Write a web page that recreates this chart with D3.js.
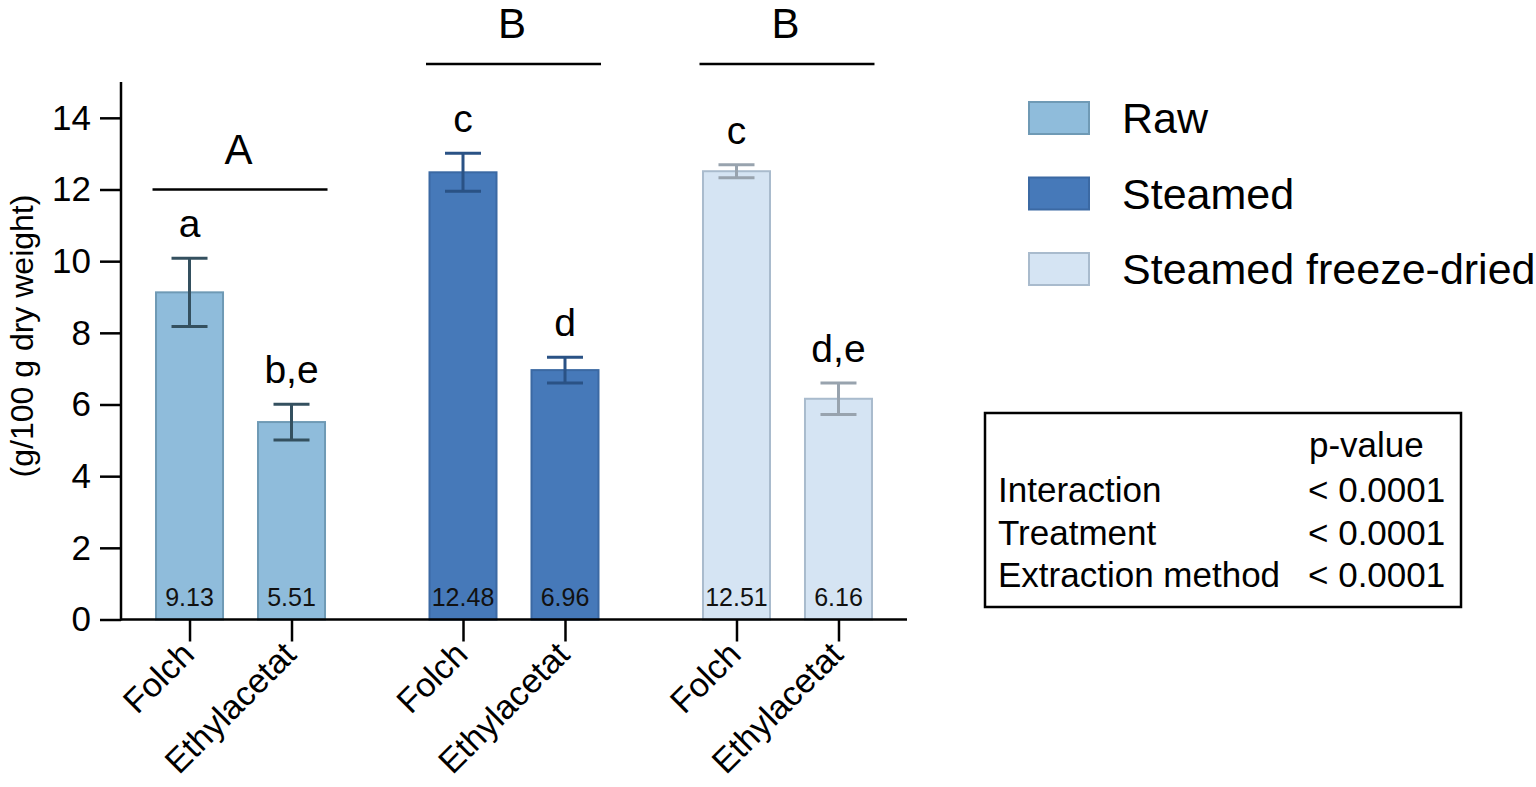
<!DOCTYPE html>
<html>
<head>
<meta charset="utf-8">
<script src="https://cdn.jsdelivr.net/npm/d3@7"></script>
<style>
  html, body { margin: 0; padding: 0; background: #fff; }
  svg { display: block; font-family: "Liberation Sans", Arial, Helvetica, sans-serif; }
</style>
</head>
<body>
<svg id="chart" width="1536" height="787"></svg>
<script>
// ---- data ----
const treatments = ["Raw", "Steamed", "Steamed freeze-dried"];
const methods = ["Folch", "Ethylacetat"];
const rawMeans = [9.13, 5.51];
const steamedMeans = [12.48, 6.96];
const sfdMeans = [12.51, 6.16];
const rawSD = [0.95, 0.50];
const steamedSD = [0.53, 0.36];
const sfdSD = [0.18, 0.44];
const rawLetters = ["a", "b,e"];
const steamedLetters = ["c", "d"];
const sfdLetters = ["c", "d,e"];
const groupLetters = ["A", "B", "B"];
const groupLineLevel = [12, 15.5, 15.5];
const yTicks = [0, 2, 4, 6, 8, 10, 12, 14];
const yLabel = "(g/100 g dry weight)";
const pHeader = "p-value";
const pRows = ["Interaction", "Treatment", "Extraction method"];
const pValues = ["< 0.0001", "< 0.0001", "< 0.0001"];

// ---- styles ----
const fills = ["#8fbcdb", "#4679b9", "#d5e4f3"];
const strokes = ["#6f9ab5", "#3b69a3", "#a9bbcd"];
const errColors = ["#34505f", "#2a5285", "#98a3ae"];

const meansBy = [rawMeans, steamedMeans, sfdMeans];
const sdBy = [rawSD, steamedSD, sfdSD];
const lettersBy = [rawLetters, steamedLetters, sfdLetters];

const bars = [];
treatments.forEach((t, gi) => methods.forEach((m, mi) => {
  bars.push({ t, m, gi, mi, mean: meansBy[gi][mi], sd: sdBy[gi][mi], letter: lettersBy[gi][mi] });
}));

const svg = d3.select("#chart");
const pLeft = 121, pRight = 907, pTop = 82, pBottom = 619.5;

const y = d3.scaleLinear().domain([0, 15]).range([pBottom, pTop]);
const xGroup = d3.scalePoint().domain(treatments).range([pLeft, pRight]).padding(0.437);
const xInner = d3.scaleBand().domain(methods).range([-102, 102]).paddingInner(0.343).paddingOuter(0.1716);
const cx = d => xGroup(d.t) + xInner(d.m) + xInner.bandwidth() / 2;

// bars
svg.append("g").selectAll("rect").data(bars).join("rect")
  .attr("x", d => xGroup(d.t) + xInner(d.m))
  .attr("y", d => y(d.mean))
  .attr("width", xInner.bandwidth())
  .attr("height", d => y(0) - y(d.mean))
  .attr("fill", d => fills[d.gi])
  .attr("stroke", d => strokes[d.gi])
  .attr("stroke-width", 2);

// error bars
const eg = svg.append("g").attr("fill", "none").attr("stroke-width", 3);
const capW = 18;
bars.forEach(d => {
  const c = cx(d), col = errColors[d.gi];
  eg.append("line").attr("x1", c).attr("x2", c).attr("y1", y(d.mean + d.sd)).attr("y2", y(d.mean - d.sd)).attr("stroke", col);
  eg.append("line").attr("x1", c - capW).attr("x2", c + capW).attr("y1", y(d.mean + d.sd)).attr("y2", y(d.mean + d.sd)).attr("stroke", col);
  eg.append("line").attr("x1", c - capW).attr("x2", c + capW).attr("y1", y(d.mean - d.sd)).attr("y2", y(d.mean - d.sd)).attr("stroke", col);
});

// value labels inside bars
svg.append("g").selectAll("text").data(bars).join("text")
  .attr("x", cx).attr("y", y(0) - 14)
  .attr("text-anchor", "middle")
  .attr("font-size", 25).attr("fill", "#111")
  .text(d => d.mean.toFixed(2));

// significance letters
svg.append("g").selectAll("text").data(bars).join("text")
  .attr("x", cx).attr("y", d => y(d.mean + d.sd) - 21)
  .attr("text-anchor", "middle")
  .attr("font-size", 39).attr("fill", "#000")
  .text(d => d.letter);

// group lines & letters
treatments.forEach((t, gi) => {
  const c = xGroup(t);
  const ly = y(groupLineLevel[gi]);
  svg.append("line").attr("x1", c - 88).attr("x2", c + 87).attr("y1", ly).attr("y2", ly)
    .attr("stroke", "#000").attr("stroke-width", 2.5);
  svg.append("text").attr("x", c - 2).attr("y", ly - 26).attr("text-anchor", "middle")
    .attr("font-size", 42).attr("fill", "#000").text(groupLetters[gi]);
});

// y axis
const yAxis = svg.append("g").attr("transform", `translate(${pLeft},0)`)
  .call(d3.axisLeft(y).tickValues(yTicks).tickSize(21).tickPadding(9).tickFormat(d3.format("d")));
yAxis.select(".domain").remove();
yAxis.selectAll(".tick line").attr("stroke", "#000").attr("stroke-width", 2.5);
yAxis.selectAll(".tick text").attr("font-size", 35).attr("font-family", "Liberation Sans, Arial, sans-serif").attr("fill", "#000");
svg.append("line").attr("x1", pLeft).attr("x2", pLeft).attr("y1", y(15)).attr("y2", y(0) + 1)
  .attr("stroke", "#000").attr("stroke-width", 2.5);

// x axis
const keys = bars.map(d => d.t + "|" + d.m);
const xTickScale = d3.scaleOrdinal().domain(keys).range(bars.map(cx));
const xAxis = svg.append("g").attr("transform", `translate(0,${pBottom})`)
  .call(d3.axisBottom(xTickScale).tickSize(22).tickFormat(k => k.split("|")[1]));
xAxis.select(".domain").remove();
xAxis.selectAll(".tick line").attr("stroke", "#000").attr("stroke-width", 2.5);
xAxis.selectAll(".tick text")
  .attr("font-size", 34).attr("font-family", "Liberation Sans, Arial, sans-serif").attr("fill", "#000")
  .attr("text-anchor", "end")
  .attr("dy", 0)
  .attr("transform", "translate(6,37) rotate(-45)")
  .attr("y", 0).attr("x", 0);
svg.append("line").attr("x1", pLeft - 1).attr("x2", pRight).attr("y1", pBottom).attr("y2", pBottom)
  .attr("stroke", "#000").attr("stroke-width", 2.5);

// y label
svg.append("text").attr("transform", `translate(33,336) rotate(-90)`)
  .attr("text-anchor", "middle").attr("font-size", 32).attr("fill", "#000").text(yLabel);

// legend
const lg = svg.append("g");
treatments.forEach((t, i) => {
  const ly = 102 + i * 75.5;
  lg.append("rect").attr("x", 1029).attr("y", ly).attr("width", 60).attr("height", 32)
    .attr("fill", fills[i]).attr("stroke", strokes[i]).attr("stroke-width", 2);
  lg.append("text").attr("x", 1122).attr("y", ly + 31).attr("font-size", 43).attr("fill", "#000").text(t);
});

// p-value box
const pb = svg.append("g");
pb.append("rect").attr("x", 985).attr("y", 413).attr("width", 476).attr("height", 194)
  .attr("fill", "none").attr("stroke", "#000").attr("stroke-width", 2.5);
pb.append("text").attr("x", 1309).attr("y", 457).attr("font-size", 35).text(pHeader);
pRows.forEach((r, i) => {
  const by = 502 + i * 42.5;
  pb.append("text").attr("x", 998).attr("y", by).attr("font-size", 35).text(r);
  pb.append("text").attr("x", 1308).attr("y", by).attr("font-size", 35).text(pValues[i]);
});
</script>
</body>
</html>
